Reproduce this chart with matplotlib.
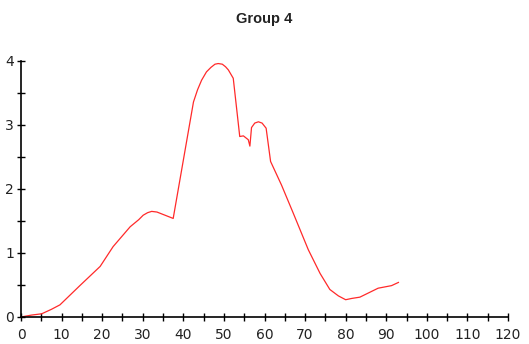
import numpy as np
import matplotlib
matplotlib.use("Agg")
import matplotlib.pyplot as plt
from matplotlib.ticker import MultipleLocator

plt.rcParams["font.family"] = ["DejaVu Sans"]

# 曲线数据
x_vals = [0, 2.6, 5.1, 7.5, 9.6, 14.5, 19.5, 22.7, 26.9, 29.0, 30.1, 31.2, 32.2, 33.5,
          37.5, 40.0, 42.5, 43.5, 44.5, 45.7, 46.8, 47.8, 48.6, 49.6, 50.4, 51.1, 52.3,
          53.9, 54.8, 56.0, 56.4, 56.8, 57.6, 58.5, 59.4, 60.4, 61.5,
          64.2, 67.1, 70.8, 73.7, 76.1, 78.2, 80.0, 81.5, 83.5, 88.0, 91.3, 93.0]
y_vals = [0, 0.03, 0.05, 0.12, 0.19, 0.49, 0.79, 1.10, 1.41, 1.52, 1.59, 1.63, 1.65, 1.64,
          1.54, 2.45, 3.36, 3.55, 3.70, 3.83, 3.90, 3.95, 3.96, 3.95, 3.91, 3.86, 3.73,
          2.82, 2.83, 2.77, 2.67, 2.96, 3.03, 3.05, 3.03, 2.95, 2.43,
          2.06, 1.62, 1.05, 0.68, 0.43, 0.33, 0.27, 0.29, 0.31, 0.45, 0.49, 0.54]

x_ticks = list(range(0, 121, 10))
y_ticks = [0, 1, 2, 3, 4]

fig = plt.figure(figsize=(5.29, 3.44), dpi=100)
ax = fig.add_axes([0.0397, 0.0785, 0.9206, 0.7442])

ax.plot(x_vals, y_vals, color="#ff2a2a", linewidth=0.9)

ax.set_xlim(0, 120)
ax.set_ylim(0, 4)
ax.set_xticks(x_ticks)
ax.set_yticks(y_ticks)
ax.xaxis.set_minor_locator(MultipleLocator(5))
ax.yaxis.set_minor_locator(MultipleLocator(0.5))
ax.tick_params(which="both", direction="inout", length=6, width=1, labelsize=10,
               labelcolor="#222222")
ax.tick_params(axis="x", pad=5)
ax.tick_params(axis="y", pad=2)

for s in ["top", "right"]:
    ax.spines[s].set_visible(False)
for s in ["left", "bottom"]:
    ax.spines[s].set_linewidth(1.2)

fig.text(0.5, 0.945, "Group 4", ha="center", va="center", fontsize=10.5,
         fontweight="bold", family=["Liberation Sans", "DejaVu Sans"], color="#222222")

plt.savefig("out.png", dpi=100)
plt.close()
